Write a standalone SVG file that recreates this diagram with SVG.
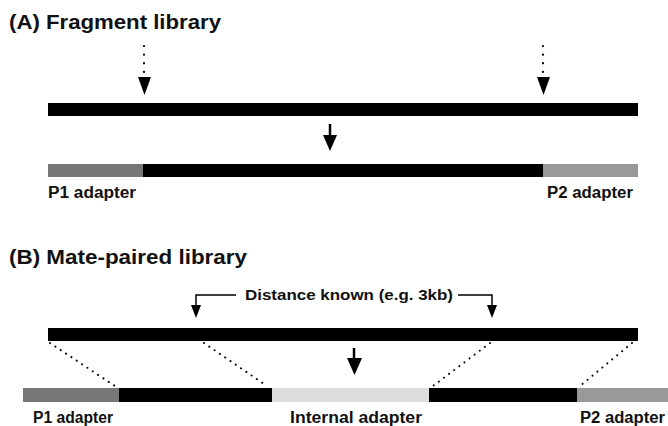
<svg xmlns="http://www.w3.org/2000/svg" width="668" height="426" viewBox="0 0 668 426">
<style>
text{font-family:"Liberation Sans",Arial,sans-serif;font-weight:bold;fill:#111}
.title{font-size:20px}
.lbl{font-size:16px}
.dist{font-size:14.5px}
.bar{fill:#000}
.dots{stroke:#000;stroke-width:2.2;stroke-dasharray:0.1 8.5;stroke-linecap:round;fill:none}
.ldots{stroke:#000;stroke-width:2;stroke-dasharray:0.1 6.3;stroke-linecap:round;fill:none}
.shaft{stroke:#000;stroke-width:2.5;fill:none}
.brk{stroke:#000;stroke-width:1.5;fill:none}
</style>
<rect width="668" height="426" fill="#fff"/>
<g id="titleA"><text class="title" x="9" y="29" textLength="212" lengthAdjust="spacingAndGlyphs">(A) Fragment library</text></g>
<g id="fragA"><rect class="bar" x="48" y="103" width="590" height="13"/></g>
<g id="libA">
<rect x="48" y="164" width="95" height="13" fill="#777"/>
<rect x="143" y="164" width="400" height="13" fill="#000"/>
<rect x="543" y="164" width="95" height="13" fill="#999"/>
</g>
<g id="p1A"><text class="lbl" x="48" y="198" textLength="88" lengthAdjust="spacingAndGlyphs">P1 adapter</text></g>
<g id="p2A"><text class="lbl" x="547" y="198" textLength="86" lengthAdjust="spacingAndGlyphs">P2 adapter</text></g>
<g id="titleB"><text class="title" x="9" y="264" textLength="238" lengthAdjust="spacingAndGlyphs">(B) Mate-paired library</text></g>
<g id="distLabel"><text class="dist" x="245" y="300" textLength="208" lengthAdjust="spacingAndGlyphs">Distance known (e.g. 3kb)</text></g>
<g id="fragB"><rect class="bar" x="48" y="328" width="590" height="13"/></g>
<g id="libB">
<rect x="23" y="388" width="96" height="14" fill="#777"/>
<rect x="119" y="388" width="153" height="14" fill="#000"/>
<rect x="272" y="388" width="157" height="14" fill="#ddd"/>
<rect x="429" y="388" width="148" height="14" fill="#000"/>
<rect x="577" y="388" width="91" height="14" fill="#999"/>
</g>
<g id="p1B"><text class="lbl" x="33" y="423" textLength="80" lengthAdjust="spacingAndGlyphs">P1 adapter</text></g>
<g id="intB"><text class="lbl" x="290" y="423" textLength="132" lengthAdjust="spacingAndGlyphs">Internal adapter</text></g>
<g id="p2B"><text class="lbl" x="580" y="423" textLength="85" lengthAdjust="spacingAndGlyphs">P2 adapter</text></g>
<g id="connectors">
<line class="dots" x1="144" y1="46" x2="144" y2="73"/>
<polygon points="138,77 151,77 144.5,95"/>
<line class="dots" x1="543" y1="46" x2="543" y2="73"/>
<polygon points="537,77 550,77 543.5,95"/>
<line class="shaft" x1="330" y1="124" x2="330" y2="138"/>
<polygon points="323,135 337,135 330,151"/>
<line class="shaft" x1="354" y1="348" x2="354" y2="361"/>
<polygon points="347,358 362,358 354.5,375"/>
<polyline class="brk" points="236,295 196,295 196,307"/>
<polygon points="191,305 201,305 196,318"/>
<polyline class="brk" points="458,295 492,295 492,307"/>
<polygon points="487,305 497,305 492,318"/>
<line class="ldots" x1="50" y1="343" x2="115" y2="386"/>
<line class="ldots" x1="204" y1="343" x2="267" y2="386"/>
<line class="ldots" x1="490" y1="343" x2="433" y2="386"/>
<line class="ldots" x1="632" y1="343" x2="580" y2="386"/>
</g>
</svg>
